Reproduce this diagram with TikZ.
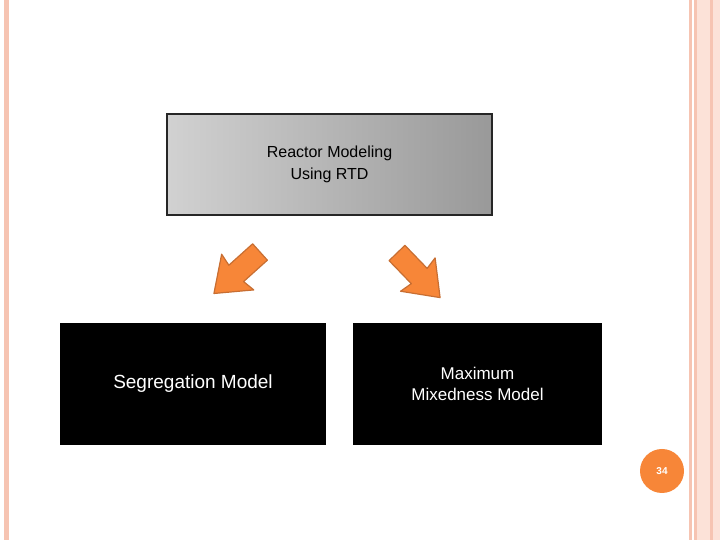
\documentclass[tikz,border=0pt]{standalone}
\usepackage{fontspec}
\setmainfont{Liberation Sans}
\begin{document}
\begin{tikzpicture}[x=1pt,y=1pt,
  blk/.style={fill=black,text=white,align=center,inner sep=0pt}]
\definecolor{stripe}{RGB}{246,196,178}
\definecolor{stripel}{RGB}{252,226,216}
\definecolor{arrowfill}{RGB}{247,134,56}
\definecolor{arrowline}{RGB}{200,110,50}
\useasboundingbox (0,0) rectangle (720,540);
\fill[white] (0,0) rectangle (720,540);
% page borders
\fill[stripe] (4,0) rectangle (9,540);
\fill[stripe] (689,0) rectangle (692,540);
\fill[stripe] (694,0) rectangle (697,540);
\fill[stripel] (697,0) rectangle (720,540);
\fill[stripe] (710,0) rectangle (713,540);
% top box
\node[draw=black!85,line width=1.2pt,left color=black!18,right color=black!40,
  minimum width=325pt,minimum height=101pt,align=center,font=\fontsize{16}{22}\selectfont]
  (top) at (329.5,375.5) {Reactor Modeling\\Using RTD};
% bottom boxes
\node[blk,minimum width=266pt,minimum height=122pt,font=\fontsize{19}{23}\selectfont]
  (seg) at (193,156) {Segregation Model};
\node[blk,minimum width=249pt,minimum height=122pt,font=\fontsize{17}{21}\selectfont]
  (mix) at (477.5,156) {Maximum\\Mixedness Model};
% arrows
\foreach \px/\py/\a in {260/288/222, 397/287/-46}{
  \begin{scope}[shift={(\px,\py)},rotate=\a]
    \fill[arrowfill,draw=arrowline,line width=1.2pt,line join=round]
      (0,-11) -- (32,-11) -- (30,-24) -- (62,0) -- (30,24) -- (32,11) -- (0,11) -- cycle;
  \end{scope}}
% page number
\fill[arrowfill] (662,69) circle (22);
\node[text=white,font=\fontsize{10}{12}\selectfont\bfseries] (pg) at (662,69) {34};
\end{tikzpicture}
\end{document}
